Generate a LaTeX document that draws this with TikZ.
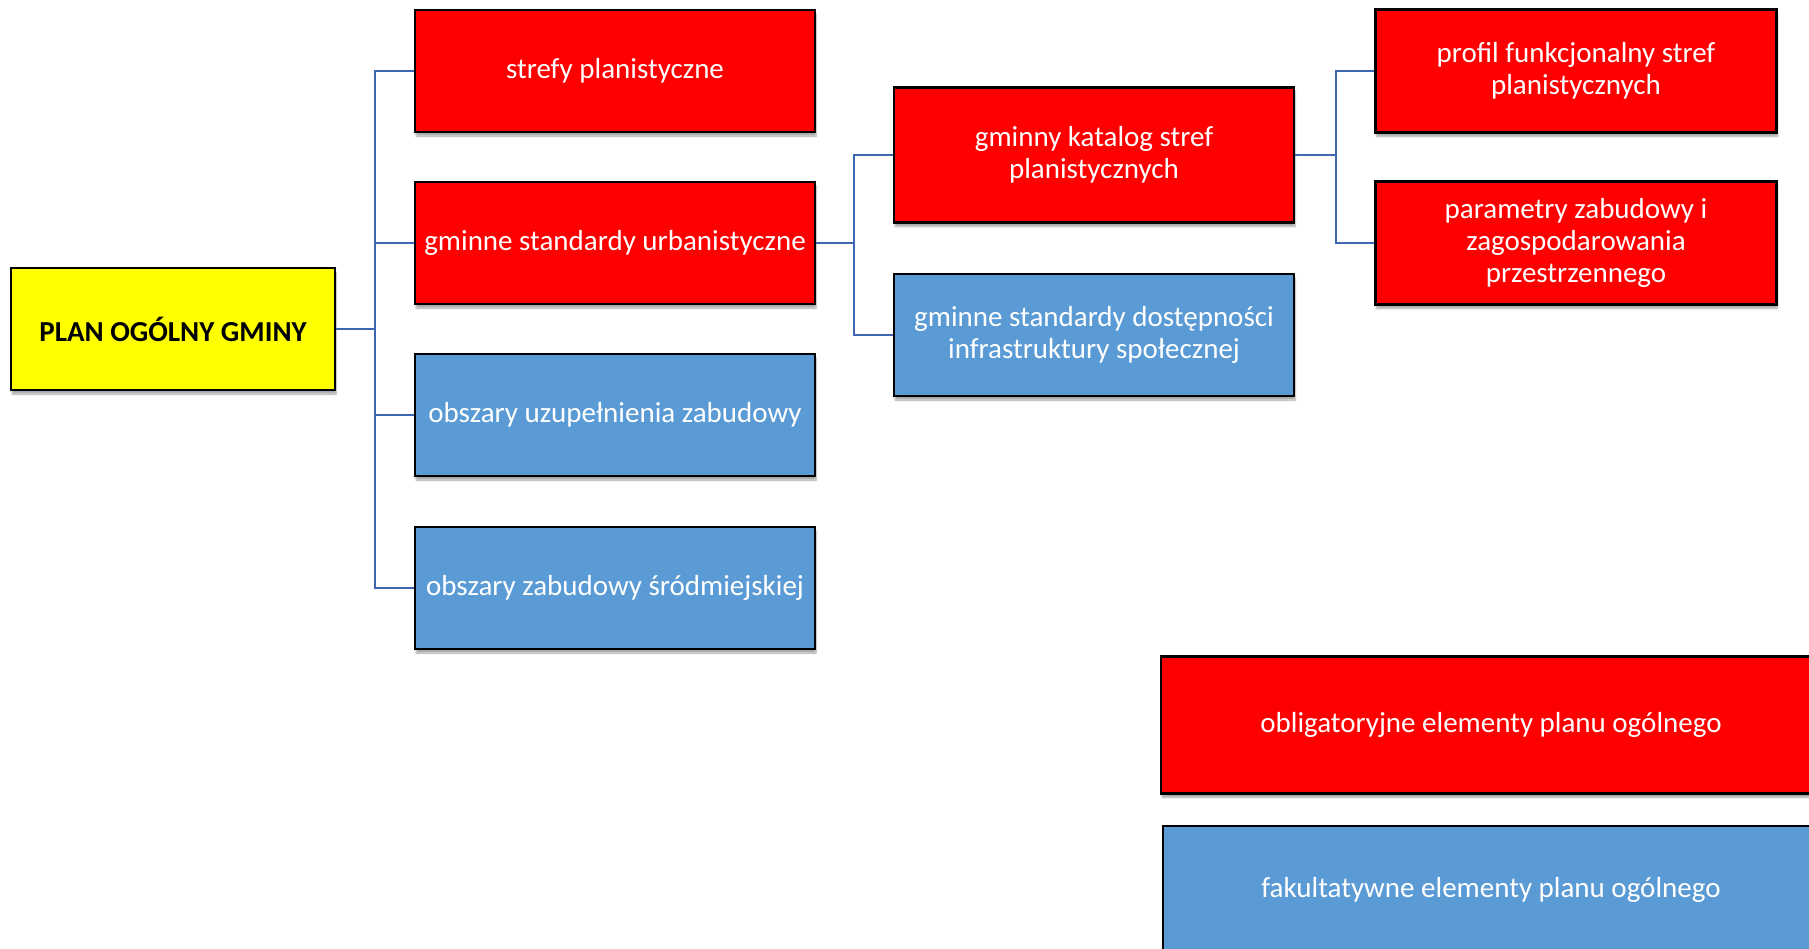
\documentclass[tikz,border=0pt]{standalone}
\usepackage{fontspec}
\setmainfont{Carlito}
\usetikzlibrary{shadows.blur}

\definecolor{oblig}{HTML}{FF0000}
\definecolor{fakult}{HTML}{5B9BD5}
\definecolor{glowny}{HTML}{FFFF00}
\definecolor{linia}{HTML}{3F66B3}

\begin{document}
\begin{tikzpicture}[x=1pt,y=-1pt,
    box/.style={draw=black,line width=2.5pt,align=center,inner sep=0pt,
        font=\fontsize{29}{32}\selectfont,text=white,
        blur shadow={shadow xshift=1pt,shadow yshift=-4pt,shadow blur steps=6,shadow opacity=35}},
    obl/.style={box,fill=oblig},
    fak/.style={box,fill=fakult},
    conn/.style={draw=linia,line width=2.8pt}]
\useasboundingbox (0,0) rectangle (1809,948);

% root
\node [box,fill=glowny,text=black,font=\fontsize{29}{32}\selectfont\bfseries,
    minimum width=324pt,minimum height=122pt] (plan) at (173,329) {PLAN OGÓLNY GMINY};

% first level
\node [obl,minimum width=400pt,minimum height=122pt] (strefy) at (615,71) {strefy planistyczne};
\node [obl,minimum width=400pt,minimum height=122pt] (urb) at (615,243) {gminne standardy urbanistyczne};
\node [fak,minimum width=400pt,minimum height=122pt] (uzup) at (615,415) {obszary uzupełnienia zabudowy};
\node [fak,minimum width=400pt,minimum height=122pt] (srod) at (615,588) {obszary zabudowy śródmiejskiej};

% second level
\node [obl,minimum width=400pt,minimum height=135pt] (katalog) at (1094,155) {gminny katalog stref\\planistycznych};
\node [fak,minimum width=400pt,minimum height=122pt] (dostep) at (1094,335) {gminne standardy dostępności\\infrastruktury społecznej};

% third level
\node [obl,minimum width=401pt,minimum height=123pt] (profil) at (1576,71) {profil funkcjonalny stref\\planistycznych};
\node [obl,minimum width=401pt,minimum height=123pt] (param) at (1576,243) {parametry zabudowy i\\zagospodarowania\\przestrzennego};

% legend
\node [obl,minimum width=660pt,minimum height=137pt] (legobl) at (1491,725) {obligatoryjne elementy planu ogólnego};
\node [fak,minimum width=656pt,minimum height=128pt] (legfak) at (1491,890) {fakultatywne elementy planu ogólnego};

% connectors
\coordinate (bus1) at (375,329);
\coordinate (bus2) at (854,243);
\coordinate (bus3) at (1336,155);
\draw [conn] (plan.east) -- (bus1);
\draw [conn] (bus1) |- (strefy.west);
\draw [conn] (bus1) |- (urb.west);
\draw [conn] (bus1) |- (uzup.west);
\draw [conn] (bus1) |- (srod.west);
\draw [conn] (urb.east) -- (bus2);
\draw [conn] (bus2) |- (katalog.west);
\draw [conn] (bus2) |- (dostep.west);
\draw [conn] (katalog.east) -- (bus3);
\draw [conn] (bus3) |- (profil.west);
\draw [conn] (bus3) |- (param.west);
\end{tikzpicture}
\end{document}
